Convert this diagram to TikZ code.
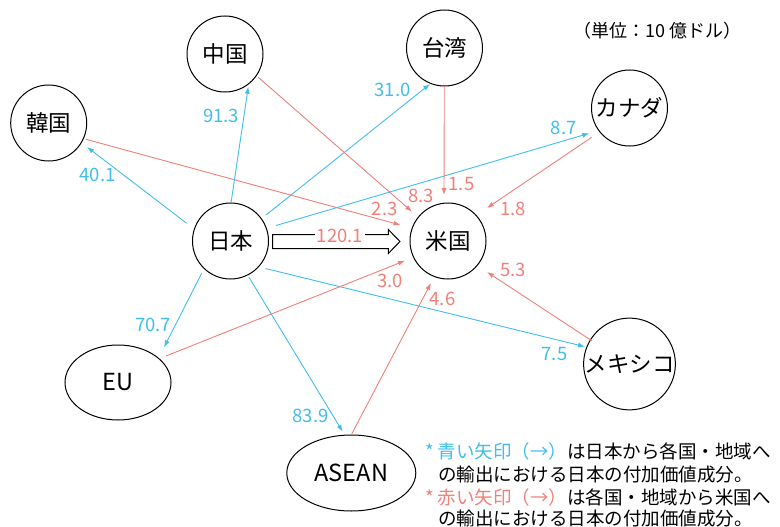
\documentclass[tikz,border=0pt]{standalone}
\usepackage{fontspec}
\setmainfont{Noto Sans CJK JP}
\usetikzlibrary{calc,shapes.geometric,arrows.meta}
\definecolor{cblue}{RGB}{64,190,235}
\definecolor{cred}{RGB}{240,128,120}
\begin{document}
\begin{tikzpicture}[x=1pt,y=-1pt,
  country/.style={draw, circle, minimum size=76pt, inner sep=0pt, line width=1pt, font=\fontsize{22.5}{26}\selectfont},
  region/.style={draw, ellipse, inner sep=0pt, line width=1pt, font=\fontsize{23.5}{27}\selectfont},
  barrow/.style={cblue, line width=0.9pt, -{Latex[length=7pt,width=5pt]}},
  rarrow/.style={cred, line width=0.9pt, -{Latex[length=7pt,width=5pt]}},
  bnum/.style={text=cblue, font=\fontsize{18.5}{22}\selectfont, inner sep=0pt},
  rnum/.style={text=cred, font=\fontsize{18.5}{22}\selectfont, inner sep=0pt},
  note/.style={anchor=west, inner sep=0pt, font=\fontsize{18.5}{22}\selectfont},
  hollow/.style={draw, fill=white, line width=1pt, line join=miter}
]
\useasboundingbox (0,0) rectangle (780,527);

% nodes
\node[country] (jp) at (230.5,241) {日本};
\node[country] (us) at (448,241) {米国};
\node[country] (cn) at (225,54) {中国};
\node[country] (tw) at (444.5,48) {台湾};
\node[country] (kr) at (48.7,123) {韓国};
\node[country] (ca) at (629.5,108) {カナダ};
\node[country] (mx) at (629.5,364) {メキシコ};
\node[region, minimum width=106pt, minimum height=75pt] (eu) at (118,382.5) {EU};
\node[region, minimum width=129pt, minimum height=76pt] (as) at (351.3,473) {ASEAN};

% blue arrows: Japan -> others
\draw[barrow] ($(jp)+(-43.8,-17.7)$) -- ($(kr)+(38.3,24)$);
\draw[barrow] ($(jp)+(0.5,-38)$) -- ($(cn)+(23.3,32.7)$);
\draw[barrow] ($(jp)+(35.5,-26)$) -- ($(tw)+(-14.5,36)$);
\draw[barrow] ($(jp)+(45.5,-15.5)$) -- ($(ca)+(-40.2,25.3)$);
\draw[barrow] ($(jp)+(35,27.5)$) -- ($(mx)+(-44.5,-17.3)$);
\draw[barrow] ($(jp)+(-28.8,32.3)$) -- ($(eu)+(46,-35.2)$);
\draw[barrow] ($(jp)+(18.5,36.3)$) -- ($(as)+(-8.6,-41.3)$);

% red arrows: others -> US
\draw[rarrow] ($(kr)+(37.3,16.3)$) -- ($(us)+(-47.5,-16)$);
\draw[rarrow] ($(cn)+(33.3,23.3)$) -- ($(us)+(-36,-29.3)$);
\draw[rarrow] ($(tw)+(-0.2,38)$) -- ($(us)+(-4,-46)$);
\draw[rarrow] ($(ca)+(-37.8,29.3)$) -- ($(us)+(39,-33)$);
\draw[rarrow] ($(mx)+(-37.8,-23.3)$) -- ($(us)+(39,31)$);
\draw[rarrow] ($(eu)+(48,-26.5)$) -- ($(us)+(-43,19.7)$);
\draw[rarrow] ($(as)+(0.4,-39)$) -- ($(us)+(-17,42)$);

% hollow arrow Japan -> US
\draw[hollow] ($(jp)+(42.2,-6.5)$) -- ($(us)+(-59.7,-6.5)$) -- ($(us)+(-59.7,-11.5)$)
  -- ($(us)+(-48,0.5)$) -- ($(us)+(-59.7,12.5)$) -- ($(us)+(-59.7,7.5)$)
  -- ($(jp)+(42.2,7.5)$) -- cycle;
\node[rnum, fill=white, inner xsep=2pt, inner ysep=0.5pt] (n1201) at (340,236) {120.1};

% blue numbers
\node[bnum] (n401) at (97.5,174.5) {40.1};
\node[bnum] (n913) at (221,116) {91.3};
\node[bnum] (n310) at (392.5,90) {31.0};
\node[bnum] (n87) at (563.7,128) {8.7};
\node[bnum] (n75) at (554.5,353.7) {7.5};
\node[bnum] (n707) at (153,325) {70.7};
\node[bnum] (n839) at (310.5,415.5) {83.9};

% red numbers
\node[rnum] (n83) at (421,195.5) {8.3};
\node[rnum] (n15) at (461.5,183.7) {1.5};
\node[rnum] (n23) at (384.7,209) {2.3};
\node[rnum] (n18) at (513,209) {1.8};
\node[rnum] (n30) at (390.3,281) {3.0};
\node[rnum] (n46) at (442.5,299) {4.6};
\node[rnum] (n53) at (513.3,270) {5.3};

% unit
\node[inner sep=0pt, font=\fontsize{18}{21}\selectfont] (unit) at (657.5,31) {（単位：10 億ドル）};

% legend
\node[note] (leg1) at (425,451) {\textcolor{cblue}{* 青い矢印（→）}は日本から各国・地域へ};
\node[note] (leg2) at (438,474.5) {の輸出における日本の付加価値成分。};
\node[note] (leg3) at (425,497.5) {\textcolor{cred}{* 赤い矢印（→）}は各国・地域から米国へ};
\node[note] (leg4) at (438,518.5) {の輸出における日本の付加価値成分。};
\end{tikzpicture}
\end{document}
